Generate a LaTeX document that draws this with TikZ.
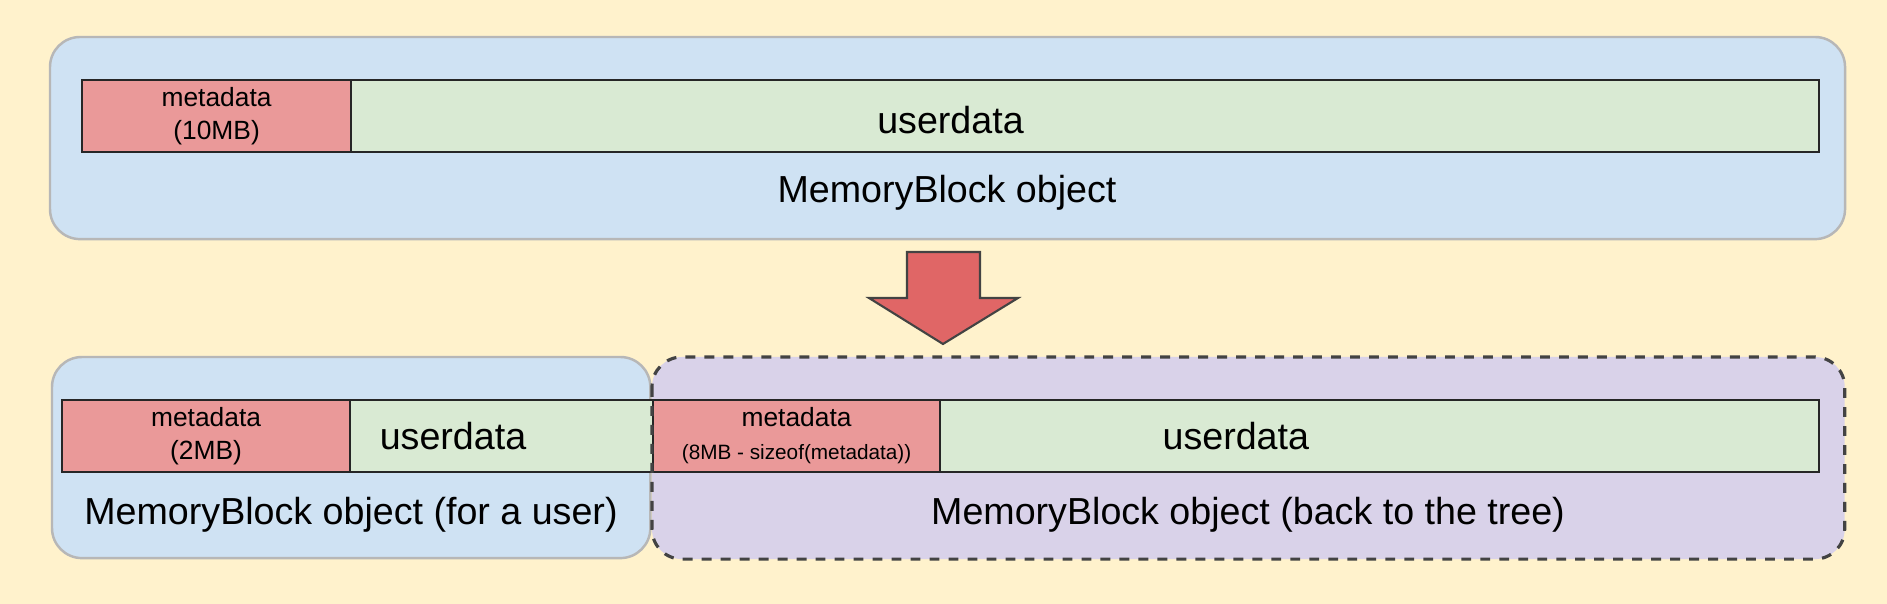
\documentclass[tikz,border=0pt]{standalone}
\usepackage{fontspec}
\setmainfont{Liberation Sans}
\usetikzlibrary{positioning}

\definecolor{bgyellow}{HTML}{FFF2CC}
\definecolor{blockblue}{HTML}{CFE2F3}
\definecolor{treepurple}{HTML}{D9D2E9}
\definecolor{usergreen}{HTML}{D9EAD3}
\definecolor{metapink}{HTML}{EA9999}
\definecolor{arrowred}{HTML}{E06666}
\definecolor{edgegray}{HTML}{B7B7B7}
\definecolor{darkgray}{HTML}{434343}

\begin{document}
\begin{tikzpicture}[x=0.01cm,y=-0.01cm,inner sep=0pt,outer sep=0pt]

	\tikzstyle{block}=[rectangle,rounded corners=0.3cm,fill=blockblue,draw=edgegray,line width=0.7pt,anchor=north west]
	\tikzstyle{tree}=[rectangle,rounded corners=0.3cm,fill=treepurple,anchor=north west]
	\tikzstyle{treeborder}=[rounded corners=0.3cm,draw=darkgray,line width=0.9pt,dash pattern=on 2.8pt off 2.6pt]
	\tikzstyle{user}=[rectangle,fill=usergreen,draw=black!85,line width=0.5pt,minimum height=0.72cm,anchor=north west,font=\fontsize{10.7}{12.8}\selectfont]
	\tikzstyle{meta}=[rectangle,fill=metapink,draw=black!85,line width=0.5pt,minimum height=0.72cm,align=center,font=\fontsize{7.5}{9.4}\selectfont]
	\tikzstyle{caption}=[font=\fontsize{10.7}{12.8}\selectfont]
	\tikzstyle{bigarrow}=[fill=arrowred,draw=darkgray,line width=0.6pt,line join=miter]

	% background and picture size
	\fill[bgyellow] (0,0) rectangle (1887,604);

	% before the split
	\node [block,minimum width=17.94cm,minimum height=2.02cm] (whole) at (50,37) {};
	\node [user,minimum width=17.36cm,text height=10pt,text depth=0pt] (wholeuser) at (82,80) {userdata};
	\node [meta,minimum width=2.69cm,right=0pt of wholeuser.west] (wholemeta) {metadata\\(10MB)};
	\node [caption] (wholecap) at (947,193) {MemoryBlock object};

	% split arrow
	\draw [bigarrow] (907,252) -- (980,252) -- (980,298) -- (1018,298) -- (943,344) -- (869,298) -- (907,298) -- cycle;

	% after the split
	\node [block,minimum width=5.98cm,minimum height=2.01cm] (foruser) at (52,357) {};
	\node [tree,minimum width=11.92cm,minimum height=2.02cm] (backtree) at (652,357) {};

	\node [user,minimum width=5.91cm] (useruser) at (62,400) {};
	\node [user,minimum width=11.65cm] (treeuser) at (653,400) {userdata};
	\node [meta,minimum width=2.88cm,right=0pt of useruser.west] (usermeta) {metadata\\(2MB)};
	\node [meta,minimum width=2.87cm,right=0pt of treeuser.west] (treemeta) {metadata\\{\fontsize{5.9}{8}\selectfont(8MB - sizeof(metadata))}};
	\node [caption] (userdatatext) at (453,436) {userdata};

	\draw [treeborder] (backtree.north west) rectangle (backtree.south east);

	\node [caption] (usercap) at (351,515) {MemoryBlock object (for a user)};
	\node [caption] (treecap) at (1248,515) {MemoryBlock object (back to the tree)};

\end{tikzpicture}
\end{document}
